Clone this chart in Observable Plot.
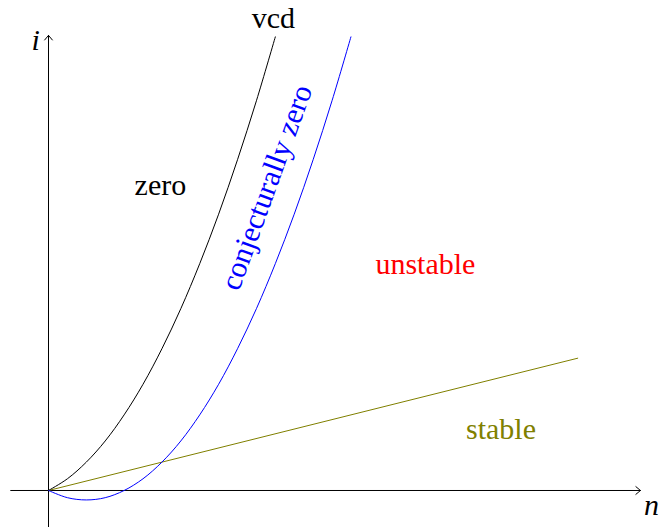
<!DOCTYPE html>
<html><head><meta charset="utf-8">
<script src="https://cdn.jsdelivr.net/npm/d3@7"></script>
<script src="https://cdn.jsdelivr.net/npm/@observablehq/plot@0.6"></script>
<style>
html,body{margin:0;padding:0;background:#fff}
svg{display:block}
svg text{font-family:"Liberation Serif","DejaVu Serif",serif}
</style>
</head><body><div id="chart"></div>
<script>
// black curve "vcd" (n, i)
const vcdN = [0, 0.5, 1, 1.5, 2, 2.5, 3, 3.5, 4, 4.5, 5, 5.5, 6];
const vcdI = [0, 0.31, 0.75, 1.31, 2, 2.81, 3.75, 4.81, 6, 7.31, 8.75, 10.31, 12];
// blue curve "conjecturally zero"
const conjN = [0, 0.5, 1, 1.5, 2, 2.5, 3, 3.5, 4, 4.5, 5, 5.5, 6, 6.5, 7, 7.5, 8];
const conjI = [0, -0.19, -0.25, -0.19, 0, 0.31, 0.75, 1.31, 2, 2.81, 3.75, 4.81, 6, 7.31, 8.75, 10.31, 12];
// olive line "stable"
const stableN = [0, 14];
const stableI = [0, 3.5];
// axes extents
const axisNFrom = [-1, 0];
const axisIFrom = [0, -1];
const axisNTo = [15.66, 0];
const axisITo = [0, 12.04];
const axisNames = ["n", "i"];
const axisNameN = [15.95, -0.34];
const axisNameI = [-0.4, 11.9];
// region labels
const labelText = ["vcd", "zero", "unstable", "stable"];
const labelN = [5.95, 2.96, 9.97, 11.97];
const labelI = [12.48, 8.08, 5.98, 1.62];
const conjLabel = ["conjecturally zero"];
const conjLabelN = [5.77];
const conjLabelI = [8.02];

const vcd = vcdN.map((n, k) => ({n, i: vcdI[k]}));
const conj = conjN.map((n, k) => ({n, i: conjI[k]}));
const stable = stableN.map((n, k) => ({n, i: stableI[k]}));
const axes = axisNFrom.map((v, k) => ({x1: v, y1: axisIFrom[k], x2: axisNTo[k], y2: axisITo[k]}));
const names = axisNames.map((t, k) => ({t, n: axisNameN[k], i: axisNameI[k]}));
const labels = labelText.map((t, k) => ({t, n: labelN[k], i: labelI[k]}));
const conjL = conjLabel.map((t, k) => ({t, n: conjLabelN[k], i: conjLabelI[k]}));
const colors = ["#000000", "#000000", "#ff0000", "#808000"];

const font = "Liberation Serif";
const chart = Plot.plot({
  width: 660, height: 527, margin: 0,
  style: {background: "#fff", fontFamily: font},
  x: {domain: [-1.27, 16.19], axis: null},
  y: {domain: [-0.979, 12.963], axis: null},
  marks: [
    Plot.arrow(axes, {x1: "x1", y1: "y1", x2: "x2", y2: "y2", stroke: "#000", strokeWidth: 1, headLength: 9, headAngle: 80}),
    Plot.line(stable, {x: "n", y: "i", stroke: "#808000", strokeWidth: 1}),
    Plot.line(vcd, {x: "n", y: "i", stroke: "#000", strokeWidth: 1, curve: "catmull-rom"}),
    Plot.line(conj, {x: "n", y: "i", stroke: "#0000ff", strokeWidth: 1, curve: "catmull-rom"}),
    Plot.text(labels, {x: "n", y: "i", text: "t", fill: (d, k) => colors[k], fontSize: 30, fontFamily: font, textAnchor: "middle", lineAnchor: "middle"}),
    Plot.text(conjL, {x: "n", y: "i", text: "t", fill: "#0000ff", fontSize: 30, fontFamily: font, rotate: -70, textAnchor: "middle", lineAnchor: "middle"}),
    Plot.text(names, {x: "n", y: "i", text: "t", fill: "#000", fontSize: 30, fontStyle: "italic", fontFamily: font, textAnchor: "middle", lineAnchor: "middle"})
  ]
});
document.getElementById("chart").appendChild(chart);
</script>
</body></html>
